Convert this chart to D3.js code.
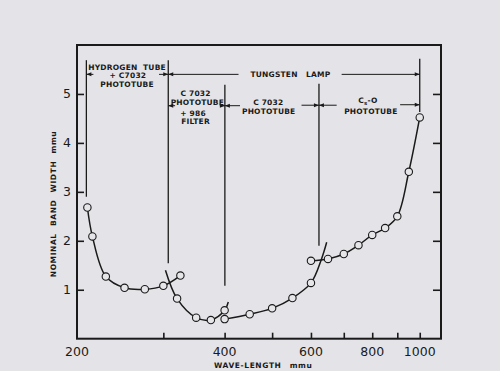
<!DOCTYPE html>
<html>
<head>
<meta charset="utf-8">
<script src="https://cdn.jsdelivr.net/npm/d3@7"></script>
<style>
body { margin: 0; background: #e4e4e8; }
svg { display: block; }
text { font-family: "DejaVu Sans", sans-serif; fill: #1a1a1a; }
</style>
</head>
<body>
<svg width="500" height="371"></svg>
<script>
// values: [wavelength mmu, nominal band width mmu]
const hydrogenPts = [[210, 2.68], [215, 2.09], [229, 1.27], [250, 1.04], [275, 1.01], [300, 1.08], [325, 1.29]];
const filterPts = [[320, 0.82], [350, 0.43], [375, 0.38], [400, 0.58]];
const c7032Pts = [[400, 0.40], [450, 0.50], [500, 0.62], [550, 0.83], [600, 1.14]];
const csoPts = [[600, 1.59], [650, 1.63], [700, 1.73], [750, 1.91], [800, 2.12], [850, 2.26], [900, 2.50], [950, 3.41], [1000, 4.52]];

// the drawn curves run a little past the measured points
const hydrogenCurve = hydrogenPts;
const filterCurve = [[303, 1.40]].concat(filterPts, [[407, 0.75]]);
const c7032Curve = c7032Pts.concat([[630, 1.62], [646, 1.97]]);
const csoCurve = csoPts;

const xTickMarks = [300, 400, 500, 600, 700, 800, 900, 1000];
const xTickLabels = [200, 400, 600, 800, 1000];
const yTicks = [1, 2, 3, 4, 5];

// region annotations, in chart units
const regionLines = [[209, 5.69, 2.90], [307, 5.69, 1.54], [400.5, 5.19, 1.08], [623, 5.21, 1.90], [1000, 5.72, 4.63]];
const arrows = [
  [216, 209, 5.40], [294, 307, 5.40], [427, 307, 5.40], [693, 1000, 5.40],
  [317, 307, 4.76], [391, 400.5, 4.76], [430, 400.5, 4.76],
  [574, 623, 4.77], [677, 623, 4.77], [912, 1000, 4.78]
];
const regionLabels = [
  ["HYDROGEN  TUBE", 253, 5.56], ["+ C7032", 254, 5.39], ["PHOTOTUBE", 253, 5.21],
  ["TUNGSTEN   LAMP", 545, 5.40],
  ["C 7032", 349, 5.02], ["PHOTOTUBE", 352, 4.84], ["+ 986", 345, 4.62], ["FILTER", 349, 4.44],
  ["C 7032", 491, 4.84], ["PHOTOTUBE", 492, 4.65],
  ["C_s-O", 784, 4.87], ["PHOTOTUBE", 795, 4.65]
];

const svg = d3.select("svg");
const plotL = 77, plotR = 441, plotT = 45, plotB = 338.7;

const x = d3.scaleLog().domain([200, 1105]).range([plotL, plotR]);
const y = d3.scaleLinear().domain([0, 6]).range([plotB, plotT]);

const ink = "#1a1a1a";

svg.append("defs").append("marker")
  .attr("id", "ah")
  .attr("viewBox", "0 0 10 10")
  .attr("refX", 10).attr("refY", 5)
  .attr("markerWidth", 6).attr("markerHeight", 5)
  .attr("orient", "auto")
  .append("path").attr("d", "M0,1L10,5L0,9Z").attr("fill", ink);

// frame
svg.append("rect")
  .attr("x", plotL).attr("y", plotT)
  .attr("width", plotR - plotL).attr("height", plotB - plotT)
  .attr("fill", "none").attr("stroke", ink).attr("stroke-width", 2);

// ticks point inward
const gy = svg.append("g").attr("transform", `translate(${plotL},0)`)
  .call(d3.axisLeft(y).tickValues(yTicks).tickSize(-7).tickPadding(6).tickFormat(d3.format("d")));
gy.select(".domain").remove();
gy.selectAll("line").attr("stroke", ink).attr("stroke-width", 1.6);
gy.selectAll("text").style("font-size", "12.5px").attr("fill", ink);

const gr = svg.append("g").attr("transform", `translate(${plotR},0)`)
  .call(d3.axisRight(y).tickValues(yTicks).tickSize(-8).tickFormat(""));
gr.select(".domain").remove();
gr.selectAll("line").attr("stroke", ink).attr("stroke-width", 1.6);

const gx = svg.append("g").attr("transform", `translate(0,${plotB})`)
  .call(d3.axisBottom(x).tickValues(xTickMarks).tickSize(-6).tickFormat(""));
gx.select(".domain").remove();
gx.selectAll("line").attr("stroke", ink).attr("stroke-width", 1.6);

svg.append("g").selectAll("text")
  .data(xTickLabels).enter().append("text")
  .attr("x", d => x(d)).attr("y", 356)
  .attr("text-anchor", "middle")
  .style("font-size", "12.5px")
  .text(d => d);

// axis titles
svg.append("text")
  .attr("transform", "translate(56,204) rotate(-90)")
  .attr("text-anchor", "middle")
  .style("font-size", "7.5px").style("font-weight", "bold")
  .style("letter-spacing", "0.6px").style("word-spacing", "4px")
  .text("NOMINAL BAND WIDTH mmu");

svg.append("text")
  .attr("x", 214).attr("y", 368)
  .style("font-size", "7.5px").style("font-weight", "bold")
  .style("letter-spacing", "0.6px").style("word-spacing", "5px")
  .text("WAVE-LENGTH mmu");

// region lines and arrows
svg.append("g").selectAll("line")
  .data(regionLines).enter().append("line")
  .attr("x1", d => x(d[0])).attr("x2", d => x(d[0]))
  .attr("y1", d => y(d[1])).attr("y2", d => y(d[2]))
  .attr("stroke", ink).attr("stroke-width", 1.3);

svg.append("g").selectAll("line")
  .data(arrows).enter().append("line")
  .attr("x1", d => x(d[0])).attr("x2", d => x(d[1]))
  .attr("y1", d => y(d[2])).attr("y2", d => y(d[2]))
  .attr("stroke", ink).attr("stroke-width", 1)
  .attr("marker-end", "url(#ah)");

const lbl = svg.append("g").selectAll("text")
  .data(regionLabels).enter().append("text")
  .attr("x", d => x(d[1])).attr("y", d => y(d[2]) + 3)
  .attr("text-anchor", "middle")
  .style("font-size", "7.5px").style("font-weight", "bold")
  .style("letter-spacing", "0.2px")
  .style("white-space", "pre");

lbl.each(function (d) {
  const t = d3.select(this);
  if (d[0].includes("_")) {
    const [a, rest] = d[0].split("_");
    t.append("tspan").text(a);
    t.append("tspan").attr("dy", 2).style("font-size", "5.5px").text(rest[0]);
    t.append("tspan").attr("dy", -2).text(rest.slice(1));
  } else {
    t.text(d[0]);
  }
});

// curves
const line = d3.line()
  .x(d => x(d[0]))
  .y(d => y(d[1]))
  .curve(d3.curveCatmullRom.alpha(0.5));

[hydrogenCurve, filterCurve, c7032Curve, csoCurve].forEach(c => {
  svg.append("path")
    .datum(c)
    .attr("d", line)
    .attr("fill", "none")
    .attr("stroke", ink)
    .attr("stroke-width", 1.5);
});

// measured points
[hydrogenPts, filterPts, c7032Pts, csoPts].forEach(p => {
  svg.append("g").selectAll("circle")
    .data(p).enter().append("circle")
    .attr("cx", d => x(d[0]))
    .attr("cy", d => y(d[1]))
    .attr("r", 3.7)
    .attr("fill", "#e6e6ea")
    .attr("stroke", ink)
    .attr("stroke-width", 1.1);
});
</script>
</body>
</html>
